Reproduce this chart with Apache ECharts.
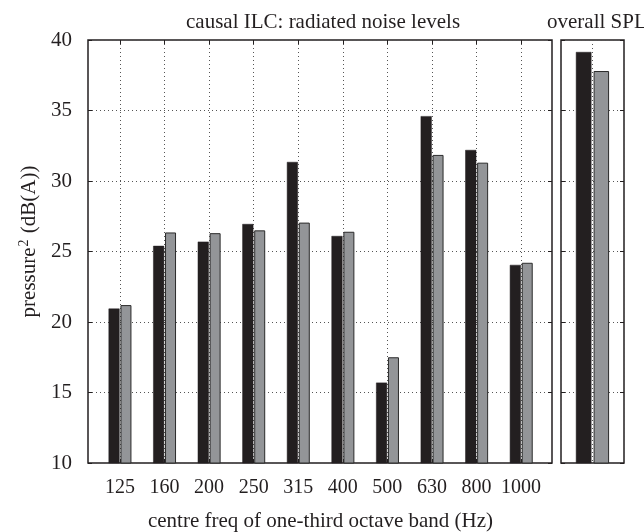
<!DOCTYPE html>
<html>
<head>
<meta charset="utf-8">
<script src="https://cdn.jsdelivr.net/npm/echarts@6/dist/echarts.min.js"></script>
<style>
  html, body { margin: 0; padding: 0; background: #fff; }
  #chart { width: 644px; height: 532px; }
</style>
</head>
<body>
<div id="chart"></div>
<script>
// One-third octave band centre frequencies (Hz)
const bands = ['125', '160', '200', '250', '315', '400', '500', '630', '800', '1000'];
// Band positions along the x axis (1 = first band)
const bandPos = [1, 2, 3, 4, 5, 6, 7, 8, 9, 10];
// Radiated noise levels per band, dB(A)
const levelsBefore = [20.95, 25.4, 25.7, 26.95, 31.35, 26.1, 15.7, 34.6, 32.2, 24.05];
const levelsAfter  = [21.2, 26.35, 26.3, 26.5, 27.05, 26.4, 17.5, 31.85, 31.3, 24.2];
// Overall sound pressure level, dB(A)
const overallBefore = [39.15];
const overallAfter  = [37.8];
// Y axis range and step
const yMin = 10, yMax = 40, yStep = 5;

const FONT = 'Liberation Serif';
const INK = '#231f20';
const GREY = '#939598';
const dotted = { show: true, interval: 0, lineStyle: { color: '#555', width: 1, type: [1, 3] } };
const innerTick = { show: true, inside: true, interval: 0, length: 4, lineStyle: { color: INK, width: 1 } };

const chart = echarts.init(document.getElementById('chart'), null, { renderer: 'canvas' });

chart.setOption({
  animation: false,
  backgroundColor: '#fff',
  title: [
    { text: 'causal ILC: radiated noise levels', left: 181, top: 7,
      textStyle: { fontFamily: FONT, fontSize: 21, fontWeight: 'normal', color: INK } },
    { text: 'overall SPL', left: 542, top: 7,
      textStyle: { fontFamily: FONT, fontSize: 21, fontWeight: 'normal', color: INK } }
  ],
  grid: [
    // framed band panel (holds the bars)
    { left: 88, right: 92, top: 40, bottom: 69, outerBoundsMode: 'none', containLabel: false,
      show: true, borderColor: INK, borderWidth: 1.5, backgroundColor: 'transparent' },
    // band centre positions: first band to last band
    { left: 120, right: 123, top: 40, bottom: 69, outerBoundsMode: 'none', containLabel: false },
    // overall level panel
    { left: 561, right: 20, top: 40, bottom: 69, outerBoundsMode: 'none', containLabel: false,
      show: true, borderColor: INK, borderWidth: 1.5, backgroundColor: 'transparent' }
  ],
  xAxis: [
    // numeric band axis for the bars; its extent spans the framed panel
    { gridIndex: 0, type: 'value', min: 0.282, max: 10.689, show: false },
    { gridIndex: 1, type: 'category', data: bands, boundaryGap: false, position: 'bottom',
      axisLine: { show: false, onZero: false }, axisTick: innerTick,
      axisLabel: { interval: 0, hideOverlap: false, fontFamily: FONT, fontSize: 20, color: INK, margin: 15 },
      splitLine: dotted,
      name: 'centre freq of one-third octave band (Hz)', nameLocation: 'middle', nameGap: 48,
      nameMoveOverlap: false,
      nameTextStyle: { fontFamily: FONT, fontSize: 21, color: INK } },
    { gridIndex: 1, type: 'category', data: bands, boundaryGap: false, position: 'top',
      axisLine: { show: false, onZero: false }, axisTick: innerTick, axisLabel: { show: false }, splitLine: { show: false } },
    { gridIndex: 2, type: 'value', min: 0, max: 2, interval: 1,
      axisLine: { show: false }, axisTick: { show: false }, axisLabel: { show: false }, splitLine: dotted }
  ],
  yAxis: [
    { gridIndex: 0, type: 'value', min: yMin, max: yMax, interval: yStep, position: 'left',
      axisLine: { show: false }, axisTick: innerTick,
      axisLabel: { fontFamily: FONT, fontSize: 21, color: INK, margin: 16 },
      splitLine: dotted,
      name: '{t|pressure}{s|2}{t| (dB(A))}', nameLocation: 'middle', nameGap: 46,
      nameMoveOverlap: false,
      nameTextStyle: {
        padding: [0, 0, 0, 20],
        rich: {
          t: { fontFamily: FONT, fontSize: 21, color: INK },
          s: { fontFamily: FONT, fontSize: 14, color: INK, padding: [0, 1, 11, 1] }
        }
      } },
    { gridIndex: 0, type: 'value', min: yMin, max: yMax, interval: yStep, position: 'right',
      axisLine: { show: false }, axisTick: innerTick, axisLabel: { show: false }, splitLine: { show: false } },
    { gridIndex: 1, type: 'value', min: yMin, max: yMax, interval: yStep, show: false },
    { gridIndex: 2, type: 'value', min: yMin, max: yMax, interval: yStep, position: 'left',
      axisLine: { show: false }, axisTick: innerTick, axisLabel: { show: false }, splitLine: dotted },
    { gridIndex: 2, type: 'value', min: yMin, max: yMax, interval: yStep, position: 'right',
      axisLine: { show: false }, axisTick: innerTick, axisLabel: { show: false }, splitLine: { show: false } }
  ],
  series: [
    { type: 'bar', xAxisIndex: 0, yAxisIndex: 0, data: bandPos.map((x, i) => [x, levelsBefore[i]]),
      barWidth: 11, barGap: '8%',
      itemStyle: { color: INK, borderColor: INK, borderWidth: 0.5 } },
    { type: 'bar', xAxisIndex: 0, yAxisIndex: 0, data: bandPos.map((x, i) => [x, levelsAfter[i]]),
      barWidth: 11, barGap: '8%',
      itemStyle: { color: GREY, borderColor: '#2b2b2b', borderWidth: 1 } },
    { type: 'bar', xAxisIndex: 3, yAxisIndex: 3, data: overallBefore.map(v => [1, v]),
      barWidth: 15.5, barGap: '14%',
      itemStyle: { color: INK, borderColor: INK, borderWidth: 0.5 } },
    { type: 'bar', xAxisIndex: 3, yAxisIndex: 3, data: overallAfter.map(v => [1, v]),
      barWidth: 15.5, barGap: '14%',
      itemStyle: { color: GREY, borderColor: '#2b2b2b', borderWidth: 1 } }
  ]
});
</script>
</body>
</html>
